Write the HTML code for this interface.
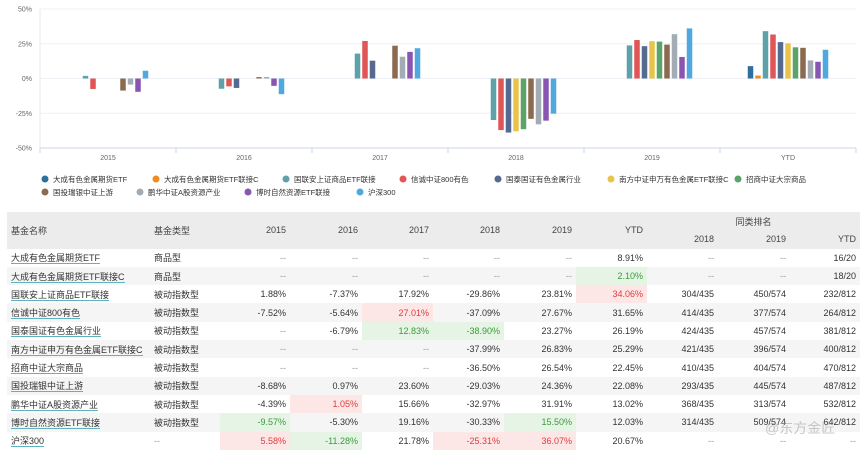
<!DOCTYPE html>
<html><head><meta charset="utf-8">
<style>
body{margin:0;width:864px;height:450px;background:#fff;font-family:"Liberation Sans","Noto Sans CJK SC",sans-serif;overflow:hidden;position:relative}
svg{position:absolute;left:0;top:0}
table{position:absolute;left:7px;top:212px;width:853px;border-collapse:collapse;font-size:9px;color:#333;table-layout:fixed}
td,th{padding:0 4px;height:18.3px;white-space:nowrap;overflow:hidden}
th{background:#ececec;font-weight:normal;color:#444;text-align:right}
td{text-align:right}
td.l,th.l{text-align:left}
tbody tr:nth-child(even) td{background:#f5f5f5}
a{color:#333;text-decoration:none;border-bottom:1px solid #5fb3c0}
.d{color:#999}
tbody tr td.r{background:#fde6e6;color:#e03c3c}
tbody tr td.g{background:#e6f4e6;color:#3a9a3a}
.wm{position:absolute;left:765px;top:418px;font-size:14px;color:rgba(150,150,150,.5)}
</style></head><body>
<svg id="chart" width="864" height="205"></svg>
<table>
<colgroup><col style="width:143px"><col style="width:70px"><col style="width:70px"><col style="width:72px"><col style="width:71px"><col style="width:71px"><col style="width:72px"><col style="width:71px"><col style="width:71px"><col style="width:72px"><col style="width:70px"></colgroup>
<thead>
<tr><th class="l" rowspan="2">基金名称</th><th class="l" rowspan="2">基金类型</th><th rowspan="2">2015</th><th rowspan="2">2016</th><th rowspan="2">2017</th><th rowspan="2">2018</th><th rowspan="2">2019</th><th rowspan="2">YTD</th><th colspan="3" style="text-align:center">同类排名</th></tr>
<tr><th>2018</th><th>2019</th><th>YTD</th></tr>
</thead>
<tbody>
<tr><td class="l"><a>大成有色金属期货ETF</a></td><td class="l">商品型</td><td class="d">--</td><td class="d">--</td><td class="d">--</td><td class="d">--</td><td class="d">--</td><td>8.91%</td><td class="d">--</td><td class="d">--</td><td>16/20</td></tr>
<tr><td class="l"><a>大成有色金属期货ETF联接C</a></td><td class="l">商品型</td><td class="d">--</td><td class="d">--</td><td class="d">--</td><td class="d">--</td><td class="d">--</td><td class="g">2.10%</td><td class="d">--</td><td class="d">--</td><td>18/20</td></tr>
<tr><td class="l"><a>国联安上证商品ETF联接</a></td><td class="l">被动指数型</td><td>1.88%</td><td>-7.37%</td><td>17.92%</td><td>-29.86%</td><td>23.81%</td><td class="r">34.06%</td><td>304/435</td><td>450/574</td><td>232/812</td></tr>
<tr><td class="l"><a>信诚中证800有色</a></td><td class="l">被动指数型</td><td>-7.52%</td><td>-5.64%</td><td class="r">27.01%</td><td>-37.09%</td><td>27.67%</td><td>31.65%</td><td>414/435</td><td>377/574</td><td>264/812</td></tr>
<tr><td class="l"><a>国泰国证有色金属行业</a></td><td class="l">被动指数型</td><td class="d">--</td><td>-6.79%</td><td class="g">12.83%</td><td class="g">-38.90%</td><td>23.27%</td><td>26.19%</td><td>424/435</td><td>457/574</td><td>381/812</td></tr>
<tr><td class="l"><a>南方中证申万有色金属ETF联接C</a></td><td class="l">被动指数型</td><td class="d">--</td><td class="d">--</td><td class="d">--</td><td>-37.99%</td><td>26.83%</td><td>25.29%</td><td>421/435</td><td>396/574</td><td>400/812</td></tr>
<tr><td class="l"><a>招商中证大宗商品</a></td><td class="l">被动指数型</td><td class="d">--</td><td class="d">--</td><td class="d">--</td><td>-36.50%</td><td>26.54%</td><td>22.45%</td><td>410/435</td><td>404/574</td><td>470/812</td></tr>
<tr><td class="l"><a>国投瑞银中证上游</a></td><td class="l">被动指数型</td><td>-8.68%</td><td>0.97%</td><td>23.60%</td><td>-29.03%</td><td>24.36%</td><td>22.08%</td><td>293/435</td><td>445/574</td><td>487/812</td></tr>
<tr><td class="l"><a>鹏华中证A股资源产业</a></td><td class="l">被动指数型</td><td>-4.39%</td><td class="r">1.05%</td><td>15.66%</td><td>-32.97%</td><td>31.91%</td><td>13.02%</td><td>368/435</td><td>313/574</td><td>532/812</td></tr>
<tr><td class="l"><a>博时自然资源ETF联接</a></td><td class="l">被动指数型</td><td class="g">-9.57%</td><td>-5.30%</td><td>19.16%</td><td>-30.33%</td><td class="g">15.50%</td><td>12.03%</td><td>314/435</td><td>509/574</td><td>642/812</td></tr>
<tr><td class="l"><a>沪深300</a></td><td class="l d">--</td><td class="r">5.58%</td><td class="g">-11.28%</td><td>21.78%</td><td class="r">-25.31%</td><td class="r">36.07%</td><td>20.67%</td><td class="d">--</td><td class="d">--</td><td class="d">--</td></tr>
</tbody></table>
<div class="wm">@东方金匠</div>
<script>
const categories=["2015","2016","2017","2018","2019","YTD"];
const seriesNames=["大成有色金属期货ETF","大成有色金属期货ETF联接C","国联安上证商品ETF联接","信诚中证800有色","国泰国证有色金属行业","南方中证申万有色金属ETF联接C","招商中证大宗商品","国投瑞银中证上游","鹏华中证A股资源产业","博时自然资源ETF联接","沪深300"];
const seriesColors=["#2e6f9e","#f08a24","#5fa1a8","#e05555","#56698f","#e8c44a","#5aa36a","#8c6a4f","#a3acb5","#8a55b0","#4fa8e0"];
const s0=[null,null,null,null,null,8.91];
const s1=[null,null,null,null,null,2.10];
const s2=[1.88,-7.37,17.92,-29.86,23.81,34.06];
const s3=[-7.52,-5.64,27.01,-37.09,27.67,31.65];
const s4=[null,-6.79,12.83,-38.90,23.27,26.19];
const s5=[null,null,null,-37.99,26.83,25.29];
const s6=[null,null,null,-36.50,26.54,22.45];
const s7=[-8.68,0.97,23.60,-29.03,24.36,22.08];
const s8=[-4.39,1.05,15.66,-32.97,31.91,13.02];
const s9=[-9.57,-5.30,19.16,-30.33,15.50,12.03];
const s10=[5.58,-11.28,21.78,-25.31,36.07,20.67];
const seriesValues=[s0,s1,s2,s3,s4,s5,s6,s7,s8,s9,s10];
const yTicks=[50,25,0,-25,-50];
const yTickLabels=["50%","25%","0%","-25%","-50%"];

const NS="http://www.w3.org/2000/svg";
const svg=document.getElementById('chart');
const X0=40,X1=856,Y50=9,Yn50=148;
const catW=(X1-X0)/categories.length;
function y(v){return Y50+(50-v)/100*(Yn50-Y50);}
function xc(i){return X0+catW*(i+0.5);}
function mk(t,a){const e=document.createElementNS(NS,t);for(const k in a)e.setAttribute(k,a[k]);svg.appendChild(e);return e;}
yTicks.forEach((t,i)=>{
  const g=mk('line',{x1:X0,x2:X1,y1:y(t),y2:y(t),stroke:i==4?'#ccd6eb':'#eef0f5','stroke-width':1});
  
  
  const l=mk('text',{x:X0-8,y:y(t)+2.5,'text-anchor':'end','font-size':7,fill:'#666'});
  l.textContent=yTickLabels[i];
  
  
});
mk('line',{x1:X0,x2:X0,y1:Y50,y2:Yn50,stroke:'#e6e9f0'});
categories.forEach((c,i)=>{
  const tk=mk('line',{x1:X0+catW*i,x2:X0+catW*i,y1:Yn50,y2:Yn50+5,stroke:'#ccd6eb'});
  
  
  const l=mk('text',{x:xc(i),y:Yn50+12,'text-anchor':'middle','font-size':7,fill:'#666'});
  l.textContent=c;
  
  
});
mk('line',{x1:X1,x2:X1,y1:Yn50,y2:Yn50+5,stroke:'#ccd6eb'});
const slot=7.5,bw=5.5,n=seriesValues.length;
seriesValues.forEach((arr,s)=>{
  arr.forEach((v,i)=>{
    if(v===null)return;
    const bx=xc(i)-slot*n/2+slot*s+1;
    const top=Math.min(y(v),y(0)),h=Math.max(Math.abs(y(v)-y(0)),1);
    const r=mk('rect',{x:bx,y:top,width:bw,height:h,fill:seriesColors[s]});
    
    
  });
});
const legendPos=[[42,179],[153,179],[283,179],[400,179],[495,179],[608,179],[735,179],[42,192],[137,192],[245,192],[357,192]];
seriesNames.forEach((nm,s)=>{
  const [lx,ly]=legendPos[s];
  const c=mk('circle',{cx:lx+3,cy:ly,r:3.5,fill:seriesColors[s]});
  
  
  const t=mk('text',{x:lx+11,y:ly+3,'font-size':7.5,fill:'#333'});
  t.textContent=nm;
  
  
});
</script>
</body></html>
